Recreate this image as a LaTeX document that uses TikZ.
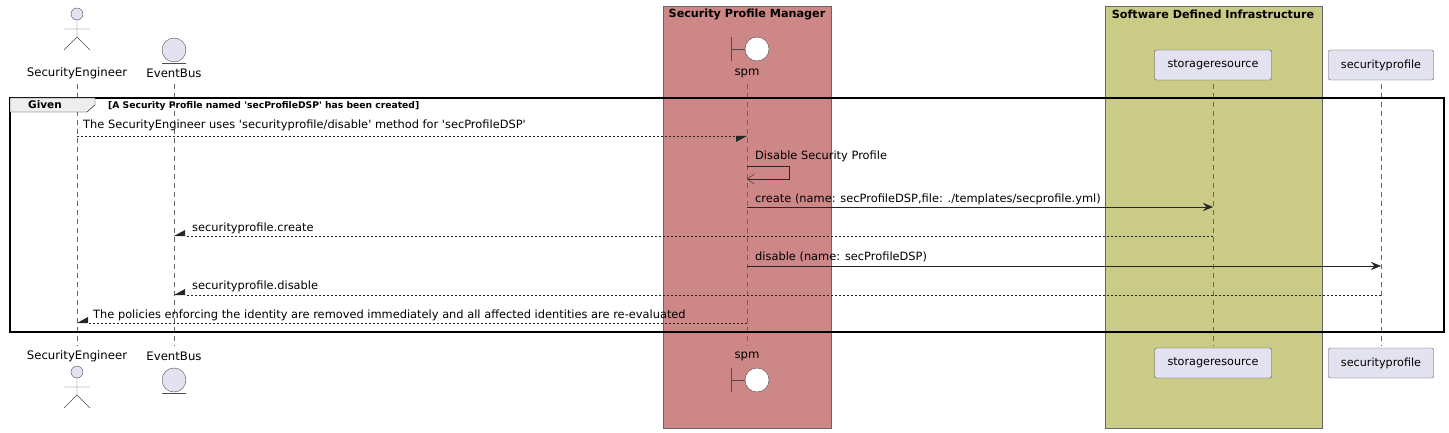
\documentclass[tikz,border=0pt]{standalone}
\usepackage{fontspec}
\setmainfont{DejaVu Sans}[Ligatures=TeXOff]
\usetikzlibrary{arrows.meta}
\definecolor{partfill}{HTML}{E2E2F0}
\definecolor{spmbox}{HTML}{CD8787}
\definecolor{sdibox}{HTML}{CBCB88}
\definecolor{tabfill}{HTML}{EEEEEE}
\tikzstyle{lifeline}=[draw=black!60, dashed, dash pattern=on 5pt off 4pt]
\tikzstyle{participant}=[draw=black!70, fill=partfill, rounded corners=2pt, minimum height=30pt, minimum width=#1, inner xsep=0pt, font=\fontsize{11.2}{14}\selectfont]
\tikzstyle{plabel}=[font=\fontsize{11.7}{15}\selectfont]
\tikzstyle{msg}=[font=\fontsize{11.4}{14}\selectfont, anchor=base west, inner sep=0pt]
\tikzstyle{sync}=[draw=black!85, -{Stealth[length=10pt,width=8pt]}]
\tikzstyle{reply}=[draw=black!85, dash pattern=on 2pt off 2pt, -{Triangle[harpoon,swap,length=11pt,width=12pt,line width=0pt]}]

\begin{document}
\begin{tikzpicture}[x=1pt, y=-1pt]
      \useasboundingbox (0,0) rectangle (1449,433);
      % boxes
      \node (spmbox) at (663,6) [draw=black!60, fill=spmbox, minimum width=168pt, minimum height=422pt, anchor=north west, inner sep=0pt] {};
      \node (sdibox) at (1105,6) [draw=black!60, fill=sdibox, minimum width=217pt, minimum height=422pt, anchor=north west, inner sep=0pt] {};
      \node at (747,14) [font=\bfseries\fontsize{11.2}{13}\selectfont] {Security Profile Manager};
      \node at (1213,14) [font=\bfseries\fontsize{11.2}{13}\selectfont] {Software Defined Infrastructure};
      % lifelines
      \foreach \x in {77,174,747,1213,1381}
            \draw[lifeline] (\x,84) -- (\x,346);
      % participants
      \node (seT) at (77,73) [plabel] {SecurityEngineer};
      \node (ebT) at (174,73) [plabel] {EventBus};
      \node (spmT) at (747,73) [plabel] {spm};
      \node (stoT) at (1213,65) [participant=117pt] {storageresource};
      \node (secT) at (1381,65) [participant=105pt] {securityprofile};
      \node (seB) at (77,356) [plabel] {SecurityEngineer};
      \node (ebB) at (174,356) [plabel] {EventBus};
      \node (spmB) at (747,356) [plabel] {spm};
      \node (stoB) at (1213,363) [participant=117pt] {storageresource};
      \node (secB) at (1381,363) [participant=105pt] {securityprofile};
      % actor
      \foreach \y in {0,358} {
            \draw[black!70, fill=partfill] (77,14+\y) circle (6pt);
            \draw[black!70] (77,20+\y) -- (77,37+\y) (64,29+\y) -- (90,29+\y)
                  (64,50+\y) -- (77,37+\y) -- (90,50+\y);
      }
      % entity
      \foreach \y in {0,330} {
            \draw[black!70, fill=partfill] (174,50+\y) circle (12pt);
            \draw[black!70] (162,63+\y) -- (186,63+\y);
      }
      % boundary
      \foreach \y in {0,331} {
            \draw[black!70] (731,37+\y) -- (731,61+\y) (731,49+\y) -- (745,49+\y);
            \draw[black!70, fill=white] (757,49+\y) circle (12pt);
      }
      % frame
      \draw[line width=1.3pt] (10,98) rectangle (1444,332);
      \draw[fill=tabfill] (10,98) -- (95,98) -- (95,105) -- (87,112) -- (10,112) -- cycle;
      \node at (45,105) [font=\bfseries\fontsize{10.5}{13}\selectfont] {Given};
      \node at (108,106) [anchor=west, inner sep=0pt, font=\bfseries\fontsize{9.2}{11}\selectfont] {[A Security Profile named 'secProfileDSP' has been created]};
      % coordinates on lifelines
      \coordinate (se1) at (77,136);   \coordinate (spm1) at (747,136);
      \coordinate (spm2) at (747,166); \coordinate (spm2b) at (747,179);
      \coordinate (spm3) at (747,207); \coordinate (sto3) at (1213,207);
      \coordinate (sto4) at (1213,236); \coordinate (eb4) at (174,236);
      \coordinate (spm5) at (747,266); \coordinate (sec5) at (1381,266);
      \coordinate (sec6) at (1381,295); \coordinate (eb6) at (174,295);
      \coordinate (spm7) at (747,323); \coordinate (se7) at (77,323);
      % messages
      \draw[reply] (se1) -- (spm1);
      \node at (83,129) [msg] {The SecurityEngineer uses 'securityprofile/disable' method for 'secProfileDSP'};
      \draw[draw=black!85, -{Straight Barb[length=7pt,width=10pt]}] (spm2) -- (789,166) -- (789,179) -- (spm2b);
      \node at (755,160) [msg] {Disable Security Profile};
      \draw[sync] (spm3) -- (sto3);
      \node at (755,202) [msg] {create (name: secProfileDSP,file: ./templates/secprofile.yml)};
      \draw[reply] (sto4) -- (eb4);
      \node at (192,231) [msg] {securityprofile.create};
      \draw[sync] (spm5) -- (sec5);
      \node at (755,260) [msg] {disable (name: secProfileDSP)};
      \draw[reply] (sec6) -- (eb6);
      \node at (192,289) [msg] {securityprofile.disable};
      \draw[reply] (spm7) -- (se7);
      \node at (93,318) [msg] {The policies enforcing the identity are removed immediately and all affected identities are re-evaluated};
\end{tikzpicture}
\end{document}
